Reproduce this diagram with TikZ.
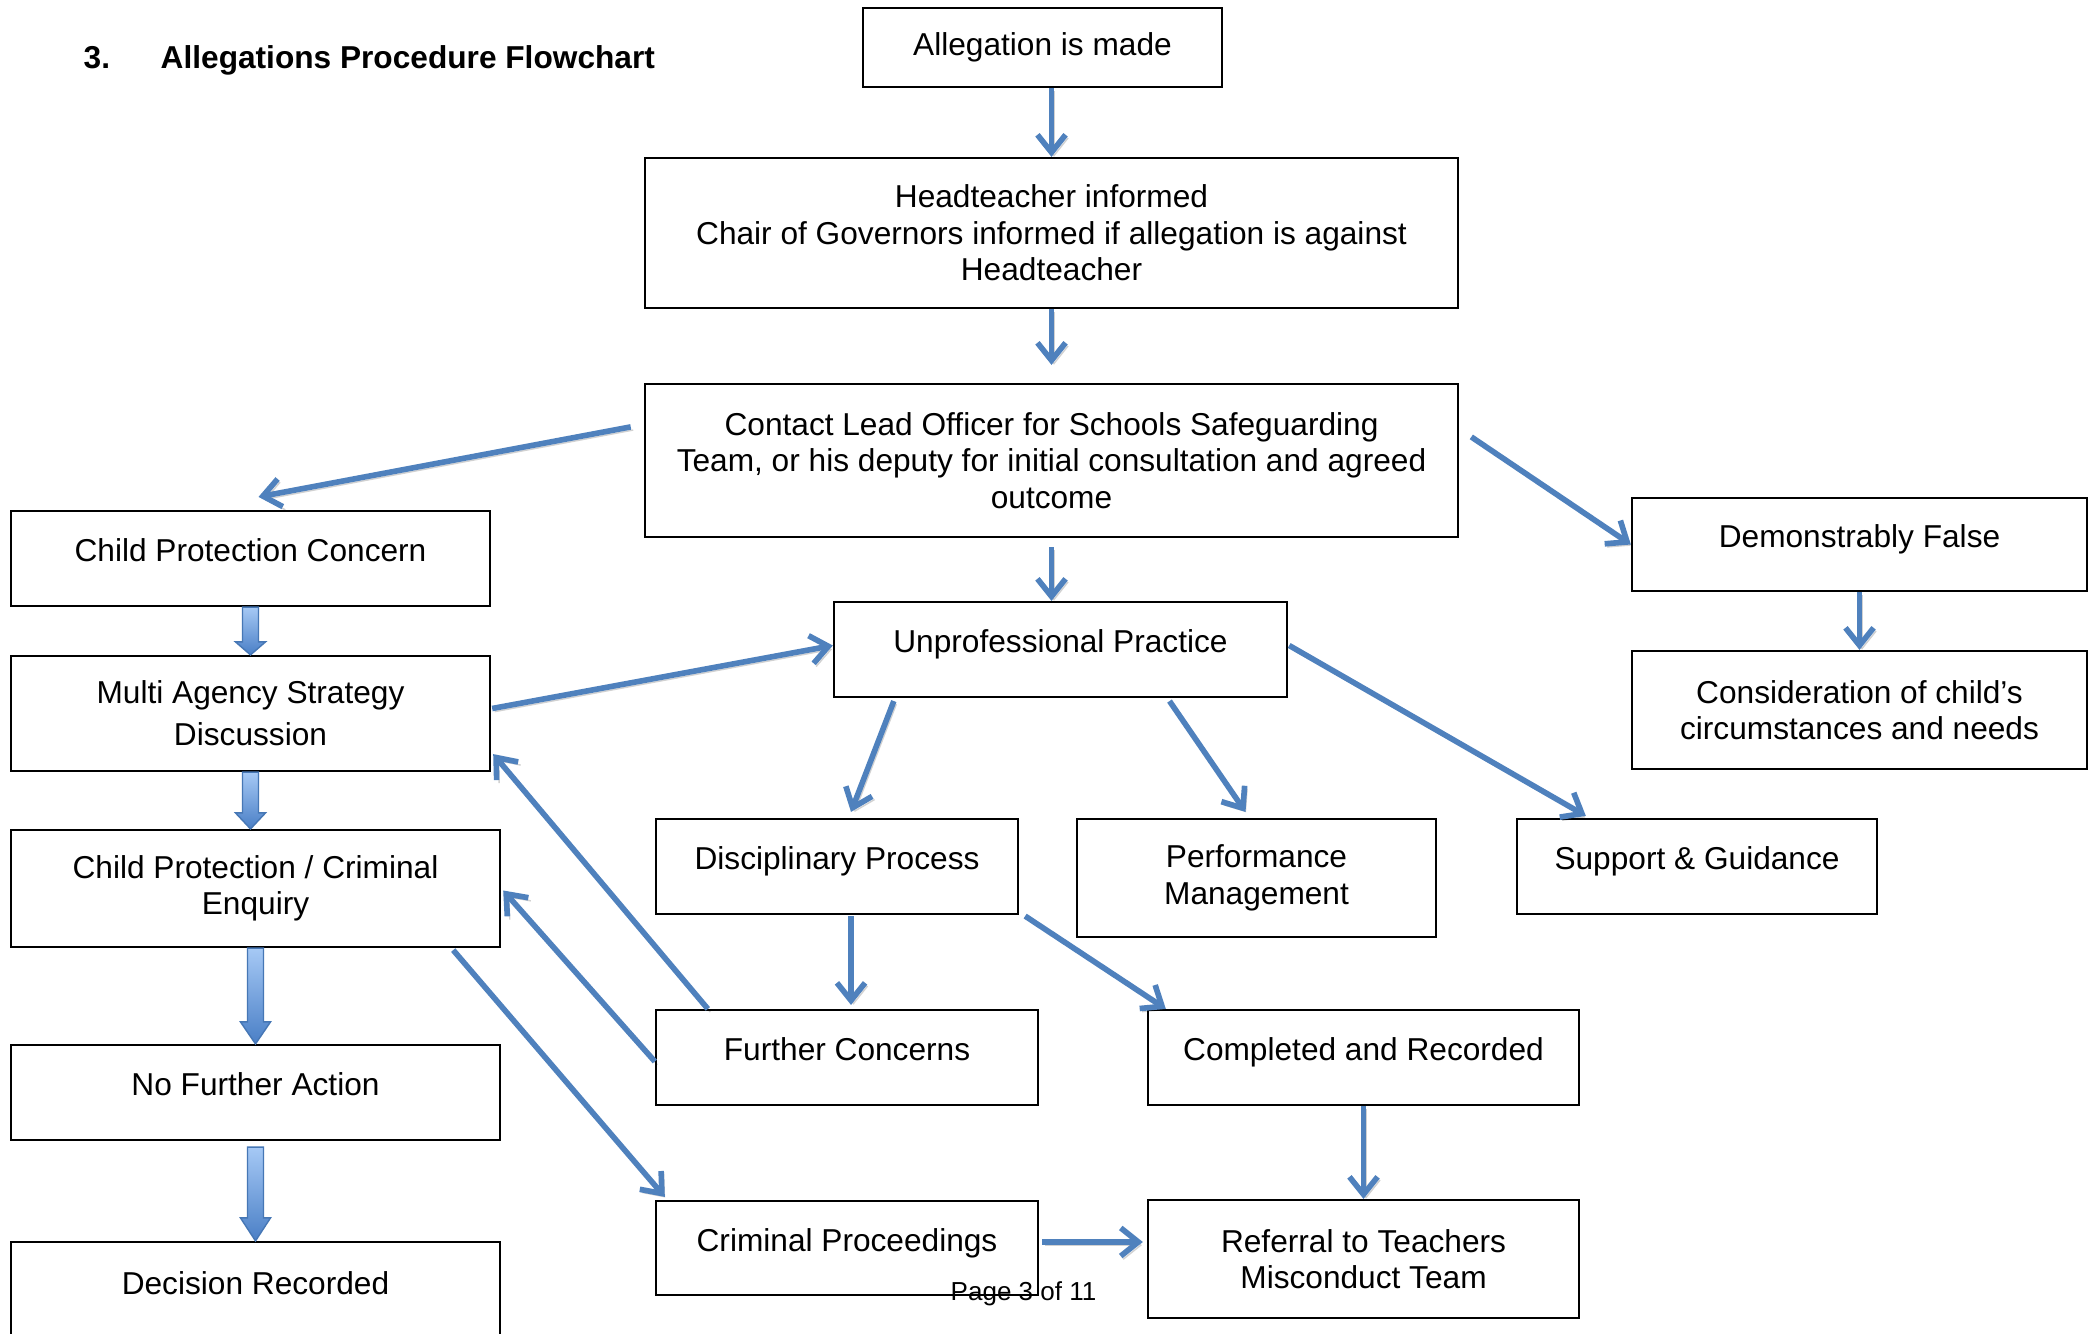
\documentclass[tikz,border=0pt]{standalone}
\usepackage{fontspec}
\setmainfont{Liberation Sans}
\usetikzlibrary{calc, arrows.meta}

\definecolor{flowblue}{HTML}{4F81BD}
\definecolor{arrowtop}{HTML}{A6C9F5}
\definecolor{arrowbot}{HTML}{4A7FC6}
\definecolor{arrowline}{HTML}{4677B5}

\tikzset{
  box/.style={draw, line width=0.6pt, align=center, inner sep=0pt,
    font=\fontsize{9pt}{10.4pt}\selectfont},
  oneline/.style={text height=6.5pt, text depth=4.6pt},
  flow/.style={draw=flowblue, line width=1.6pt,
    -{Straight Barb[length=5pt, width=8pt]},
    preaction={draw=black, opacity=0.18, transform canvas={shift={(0.7pt,-0.9pt)}}}}
}

% block arrow: top point, tip point, head length
\newcommand{\blockarrow}[3]{%
  \shade[top color=arrowtop, bottom color=arrowbot, draw=arrowline, line width=0.4pt]
    let \p1=(#1), \p2=(#2) in
    (\x1-0.08cm,\y1) -- (\x1+0.08cm,\y1) -- (\x1+0.08cm,\y2+#3)
    -- (\x1+0.15cm,\y2+#3) -- (\x1,\y2) -- (\x1-0.15cm,\y2+#3)
    -- (\x1-0.08cm,\y2+#3) -- cycle;
}

\begin{document}
\begin{tikzpicture}[x=0.01cm, y=-0.01cm]

\useasboundingbox (0,0) rectangle (2098,1334);
\clip (0,0) rectangle (2098,1334);
\fill[white] (0,0) rectangle (2098,1334);

% Title
\node[anchor=base west, inner sep=0pt, font=\fontsize{9pt}{10.4pt}\selectfont\bfseries] (num) at (83,69) {3.};
\node[anchor=base west, inner sep=0pt, font=\fontsize{9pt}{10.4pt}\selectfont\bfseries] (title) at (160,69) {Allegations Procedure Flowchart};

% Middle column
\node[box, minimum width=3.59cm, minimum height=0.79cm] (allege) at (1042.5,47.5) {Allegation is made};
\node[box, minimum width=8.13cm, minimum height=1.50cm] (head) at (1051.5,233) {Headteacher informed\\Chair of Governors informed if allegation is against\\Headteacher};
\node[box, minimum width=8.13cm, minimum height=1.53cm] (contact) at (1051.5,460.5) {Contact Lead Officer for Schools Safeguarding\\Team, or his deputy for initial consultation and agreed\\outcome};
\node[box, oneline, minimum width=4.53cm, minimum height=0.95cm] (unprof) at (1060.5,649.5) {Unprofessional Practice};

% Left column
\node[box, oneline, minimum width=4.79cm, minimum height=0.95cm] (cpc) at (250.5,558.5) {Child Protection Concern};
\node[box, minimum width=4.79cm, minimum height=1.15cm, font=\fontsize{9pt}{12pt}\selectfont] (mas) at (250.5,713.5) {Multi Agency Strategy\\Discussion};
\node[box, minimum width=4.89cm, minimum height=1.17cm] (cpce) at (255.5,888.5) {Child Protection / Criminal\\Enquiry};
\node[box, oneline, minimum width=4.89cm, minimum height=0.95cm] (nfa) at (255.5,1092.5) {No Further Action};
\node[box, oneline, minimum width=4.89cm, minimum height=0.98cm] (dr) at (255.5,1291) {Decision Recorded};

% Right column
\node[box, oneline, minimum width=4.55cm, minimum height=0.93cm] (df) at (1859.5,544.5) {Demonstrably False};
\node[box, minimum width=4.55cm, minimum height=1.18cm] (consid) at (1859.5,710) {Consideration of child’s\\circumstances and needs};

% Outcomes
\node[box, oneline, minimum width=3.62cm, minimum height=0.95cm] (disc) at (837,866.5) {Disciplinary Process};
\node[box, minimum width=3.59cm, minimum height=1.18cm] (perf) at (1256.5,878) {Performance\\Management};
\node[box, oneline, minimum width=3.60cm, minimum height=0.95cm] (supp) at (1697,866.5) {Support \& Guidance};
\node[box, oneline, minimum width=3.82cm, minimum height=0.95cm] (further) at (847,1057.5) {Further Concerns};
\node[box, oneline, minimum width=4.31cm, minimum height=0.95cm] (compl) at (1363.5,1057.5) {Completed and Recorded};
\node[box, oneline, minimum width=3.82cm, minimum height=0.94cm] (crim) at (847,1248) {Criminal Proceedings};
\node[box, minimum width=4.31cm, minimum height=1.18cm] (ref) at (1363.5,1259) {Referral to Teachers\\Misconduct Team};

% Page footer
\node[anchor=base west, inner sep=0pt, font=\fontsize{7.4pt}{9pt}\selectfont] (page) at (950,1300) {Page 3 of 11};

% Block arrows
\blockarrow{cpc.south}{mas.north}{0.13cm}
\blockarrow{mas.south}{cpce.north}{0.16cm}
\blockarrow{cpce.south}{nfa.north}{0.22cm}
\blockarrow{[shift={(0,6)}]nfa.south}{dr.north}{0.23cm}

% Arrows
\draw[flow] (allege.south -| head.north) -- (head.north);
\draw[flow] (head.south) -- ([shift={(0,-18)}]contact.north);
\draw[flow] ([shift={(0,9)}]contact.south) -- (contact.south |- unprof.north);
\draw[flow] ([shift={(-13,44)}]contact.north west) -- ([shift={(8,-13)}]cpc.north);
\draw[flow] ([shift={(12,54)}]contact.north east) -- (df.west);
\draw[flow] (df.south) -- (consid.north);
\draw[flow] ([shift={(1,-5)}]mas.east) -- ([shift={(0,-4)}]unprof.west);
\draw[flow] ([shift={(61,3)}]unprof.south west) -- ([shift={(14,-6)}]disc.north);
\draw[flow] ([shift={(109,3)}]unprof.south) -- ([shift={(-11,-6)}]perf.north);
\draw[flow] ([shift={(1,-4)}]unprof.east) -- ([shift={(70,-2)}]supp.north west);
\draw[flow] ([shift={(14,1)}]disc.south) -- ([shift={(4,-4)}]further.north);
\draw[flow] ([shift={(6,1)}]disc.south east) -- ([shift={(19,0)}]compl.north west);
\draw[flow] ([shift={(53,0)}]further.north west) -- ([shift={(2,-18)}]mas.south east);
\draw[flow] ([shift={(0,4)}]further.west) -- ([shift={(2,2)}]cpce.east);
\draw[flow] ([shift={(-48,2)}]cpce.south east) -- ([shift={(10,-3)}]crim.north west);
\draw[flow] ([shift={(3,-6)}]crim.east) -- ([shift={(-4,-17)}]ref.west);
\draw[flow] (compl.south) -- (ref.north);

\end{tikzpicture}
\end{document}
